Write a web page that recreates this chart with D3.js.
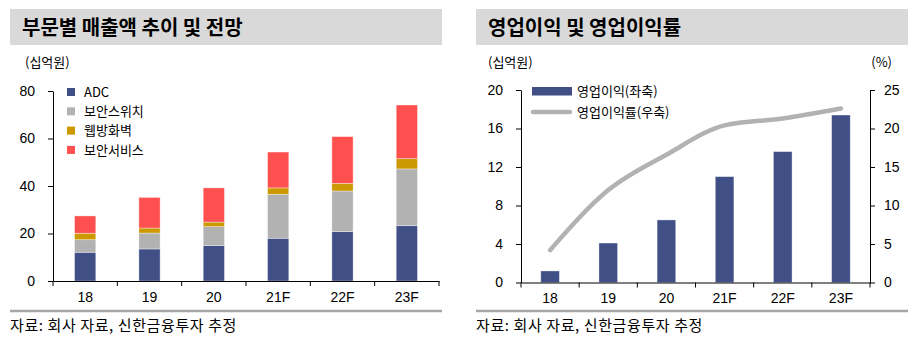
<!DOCTYPE html>
<html><head><meta charset="utf-8">
<script src="https://cdn.jsdelivr.net/npm/d3@7/dist/d3.min.js"></script>
<style>
body{margin:0;background:#fff;}
svg{display:block;font-family:"Noto Sans CJK KR","Noto Sans",sans-serif;}
</style></head>
<body><svg id="c" width="922" height="349"></svg>
<script>
const categories = ["18","19","20","21F","22F","23F"];
const seriesNames = ["ADC","보안스위치","웹방화벽","보안서비스"];
const adc     = [12.1, 13.5, 14.9, 18.0, 20.8, 23.3];
const sw      = [5.3, 6.7, 8.0, 18.5, 17.1, 23.9];
const waf     = [2.7, 2.1, 1.9, 2.7, 3.2, 4.3];
const service = [7.3, 12.9, 14.4, 15.1, 19.7, 22.6];
const opProfit = [1.2, 4.1, 6.5, 11.0, 13.6, 17.4];
const opMargin = [4.2, 12.0, 16.6, 20.4, 21.3, 22.6];
const leftTicks = [0,20,40,60,80];
const opTicks = [0,4,8,12,16,20];
const marginTicks = [0,5,10,15,20,25];
const colors = ["#404F86","#B2B2B2","#CC9900","#FF5050"];

const svg = d3.select("#c");

function frame(x0, x1, title, foot){
  svg.append("rect").attr("x",x0).attr("y",9).attr("width",x1-x0).attr("height",36).attr("fill","#D9D9D9");
  svg.append("text").attr("x",x0+12).attr("y",35).attr("font-size",20).attr("font-weight","bold").attr("fill","#000").text(title);
  svg.append("line").attr("x1",x0).attr("x2",x1).attr("y1",311).attr("y2",311).attr("stroke","#A6A6A6").attr("stroke-width",2.5);
  svg.append("text").attr("x",x0).attr("y",330.5).attr("font-size",15).attr("letter-spacing",0.6).attr("fill","#000").text(foot);
}

function xAxis(g, x, y0){
  const ax = d3.axisBottom(x).tickSize(0).tickPadding(11);
  const a = g.append("g").attr("transform",`translate(0,${y0})`).call(ax);
  a.select(".domain").attr("stroke","#000");
  a.selectAll("text").attr("font-size",14).attr("fill","#000").attr("font-family","inherit");
  const step = x.step();
  const bounds = d3.range(categories.length+1).map(i => x.range()[0] + i*step);
  g.selectAll(null).data(bounds).enter().append("line")
    .attr("x1",d=>d).attr("x2",d=>d).attr("y1",y0).attr("y2",y0+5).attr("stroke","#000");
}

function styleAxis(a){
  a.select(".domain").attr("stroke","#000");
  a.selectAll(".tick line").attr("stroke","#000");
  a.selectAll("text").attr("font-size",14).attr("fill","#000").attr("font-family","inherit");
}

// ---------- Left chart ----------
frame(10, 442, "부문별 매출액 추이 및 전망", "자료: 회사 자료, 신한금융투자 추정");
svg.append("text").attr("x",25).attr("y",67).attr("font-size",13).text("(십억원)");

const gL = svg.append("g");
const xL = d3.scaleBand().domain(categories).range([53,439]).paddingInner(0.67).paddingOuter(0.335);
const yL = d3.scaleLinear().domain([0,80]).range([281,91]);

const stackData = categories.map((c,i)=>({cat:c, ADC:adc[i], "보안스위치":sw[i], "웹방화벽":waf[i], "보안서비스":service[i]}));
const stacked = d3.stack().keys(seriesNames)(stackData);
stacked.forEach((s,si)=>{
  gL.append("g").selectAll("rect").data(s).enter().append("rect")
    .attr("x",d=>xL(d.data.cat)).attr("width",xL.bandwidth())
    .attr("y",d=>yL(d[1])).attr("height",d=>yL(d[0])-yL(d[1]))
    .attr("fill",colors[si]).attr("stroke","rgba(255,255,255,0.45)").attr("stroke-width",0.8);
});
const ayL = gL.append("g").attr("transform","translate(53,0)")
  .call(d3.axisLeft(yL).tickValues(leftTicks).tickSize(5).tickSizeOuter(0).tickPadding(13));
styleAxis(ayL);
xAxis(gL, xL, 281);

// legend left
seriesNames.forEach((n,i)=>{
  const yy = 92 + i*19.3;
  gL.append("rect").attr("x",67).attr("y",yy-4).attr("width",8).attr("height",8).attr("fill",colors[i]);
  gL.append("text").attr("x",84).attr("y",yy).attr("dy","0.36em").attr("font-size",13).text(n);
});

// ---------- Right chart ----------
frame(476, 908, "영업이익 및 영업이익률", "자료: 회사 자료, 신한금융투자 추정");
svg.append("text").attr("x",488).attr("y",67).attr("font-size",13).text("(십억원)");
svg.append("text").attr("x",892).attr("y",67).attr("font-size",13).attr("text-anchor","end").text("(%)");

const gR = svg.append("g");
const xR = d3.scaleBand().domain(categories).range([521,870]).paddingInner(0.68).paddingOuter(0.34);
const yR = d3.scaleLinear().domain([0,20]).range([282.5,90]);
const yR2 = d3.scaleLinear().domain([0,25]).range([282.5,90]);

gR.append("g").selectAll("rect").data(opProfit).enter().append("rect")
  .attr("x",(d,i)=>xR(categories[i])).attr("width",xR.bandwidth())
  .attr("y",d=>yR(d)).attr("height",d=>yR(0)-yR(d))
  .attr("fill",colors[0]).attr("stroke","rgba(255,255,255,0.45)").attr("stroke-width",0.8);

const line = d3.line()
  .x((d,i)=>xR(categories[i])+xR.bandwidth()/2)
  .y(d=>yR2(d))
  .curve(d3.curveMonotoneX);
gR.append("path").datum(opMargin).attr("d",line).attr("fill","none")
  .attr("stroke","#B2B2B2").attr("stroke-width",4.5).attr("stroke-linecap","round");

const ayR = gR.append("g").attr("transform","translate(521,0)")
  .call(d3.axisLeft(yR).tickValues(opTicks).tickSize(5).tickSizeOuter(0).tickPadding(13));
styleAxis(ayR);
const ayR2 = gR.append("g").attr("transform","translate(870,0)")
  .call(d3.axisRight(yR2).tickValues(marginTicks).tickSize(5).tickSizeOuter(0).tickPadding(9));
styleAxis(ayR2);
xAxis(gR, xR, 282.5);

// legend right
gR.append("rect").attr("x",532).attr("y",87).attr("width",40).attr("height",8.5).attr("fill",colors[0]);
gR.append("text").attr("x",577).attr("y",91.5).attr("dy","0.36em").attr("font-size",13).text("영업이익(좌축)");
gR.append("line").attr("x1",533).attr("x2",570).attr("y1",112).attr("y2",112)
  .attr("stroke","#B2B2B2").attr("stroke-width",4.5).attr("stroke-linecap","round");
gR.append("text").attr("x",577).attr("y",112).attr("dy","0.36em").attr("font-size",13).text("영업이익률(우축)");
</script></body></html>
